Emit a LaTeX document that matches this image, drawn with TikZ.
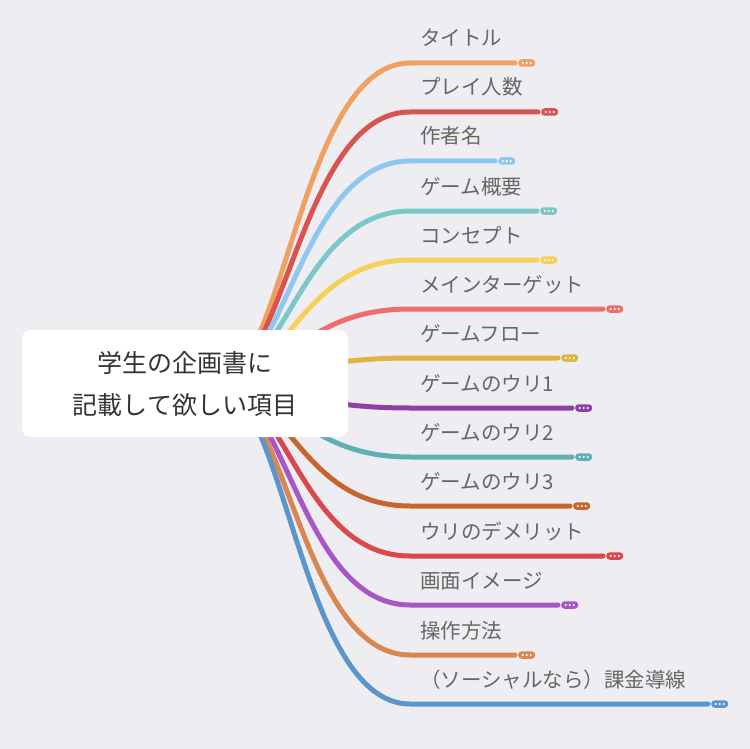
\documentclass[tikz,border=0pt]{standalone}
\usepackage{fontspec}
\newfontfamily\jp{Noto Sans CJK JP}
\definecolor{bg}{HTML}{EEEEF2}
\definecolor{c1}{HTML}{F0A060}
\definecolor{c2}{HTML}{D9534F}
\definecolor{c3}{HTML}{8EC8F0}
\definecolor{c4}{HTML}{7CC7C9}
\definecolor{c5}{HTML}{F5D15A}
\definecolor{c6}{HTML}{EE6E6E}
\definecolor{c7}{HTML}{E0B440}
\definecolor{c8}{HTML}{8E3FA8}
\definecolor{c9}{HTML}{5FAFB5}
\definecolor{c10}{HTML}{C8642E}
\definecolor{c11}{HTML}{D9484A}
\definecolor{c12}{HTML}{A855C8}
\definecolor{c13}{HTML}{D98650}
\definecolor{c14}{HTML}{5B95C9}
\tikzset{
  branch/.style={line width=5pt, line cap=round},
  lbl/.style={anchor=base west, inner sep=0pt, text=black!60, font=\jp\fontsize{20.5pt}{22pt}\selectfont},
  pill/.style={rounded corners=3.5pt, minimum width=17pt, minimum height=7.5pt, inner sep=0pt},
  centerbox/.style={fill=white, rounded corners=9pt, minimum width=326pt, minimum height=107pt, align=center, text=black!80, font=\jp\fontsize{25pt}{42pt}\selectfont}
}
\begin{document}
\begin{tikzpicture}[x=1pt,y=-1pt]
\fill[bg] (0,0) rectangle (750,749);
\useasboundingbox (0,0) rectangle (750,749);
\coordinate (o) at (215,383);
\foreach \i/\yy/\ex/\t in {1/63/515/タイトル,2/112/538/プレイ人数,3/161/495/作者名,4/211/537/ゲーム概要,5/260/537/コンセプト,6/309/603/メインターゲット,7/358/558/ゲームフロー,8/408/572/ゲームのウリ1,9/457/572/ゲームのウリ2,10/506/570/ゲームのウリ3,11/556/603/ウリのデメリット,12/605/558/画面イメージ,13/655/515/操作方法,14/704/708/（ソーシャルなら）課金導線}{
  \coordinate (s\i) at (410,\yy);
  \coordinate (e\i) at (\ex,\yy);
  \draw[branch, draw=c\i] (o) .. controls (285,383) and (300,\yy) .. (s\i) -- (e\i);
  \node[pill, fill=c\i, right=3pt] (p\i) at (e\i) {};
  \foreach \d in {-4,0,4} \fill[white] ([xshift=\d pt]p\i.center) circle (1.1pt);
  \node[lbl] (l\i) at (420,\yy-17) {\t};
}
\node[centerbox] (c) at (185,383.5) {学生の企画書に\\記載して欲しい項目};
\end{tikzpicture}
\end{document}
